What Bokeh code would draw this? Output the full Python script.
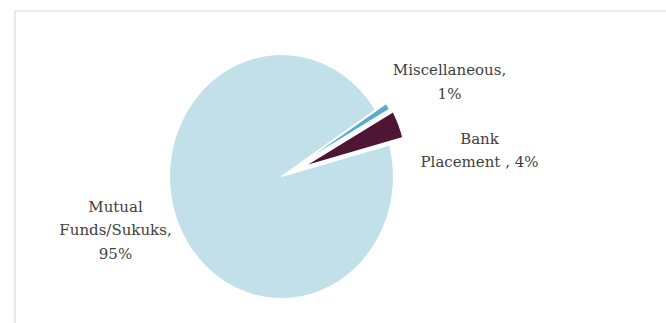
import numpy as np
from bokeh.plotting import figure
from bokeh.models import Range1d, ColumnDataSource
from bokeh.embed import file_html
from bokeh.resources import INLINE
from bokeh.core.properties import value

# ---- data ----
categories = ["Miscellaneous", "Bank Placement", "Mutual Funds/Sukuks"]
shares = [1, 4, 95]
label_texts = ["Miscellaneous,\n1%", "Bank\nPlacement , 4%", "Mutual\nFunds/Sukuks,\n95%"]

# ---- styling / layout ----
colors = ["#5aaccf", "#4f1535", "#c2e0ea"]
explode = [0.20, 0.22, 0.0]
slice_r = [0.91, 0.91, 1.0]
start_angle = 57.0  # degrees clockwise from 12 o'clock

W, H = 666, 323
CX, CY = 281.0, 176.0   # pie centre (pixels)
RX, RY = 112.0, 122.0   # pie radii (pixels)

def dx(px):
    return (px - CX) / RX

def dy(py):
    return (CY - py) / RY

label_px = [(449, 81.5), (479, 150), (115, 230)]

p = figure(width=W, height=H, output_backend="svg", toolbar_location=None,
           x_range=Range1d(dx(0), dx(W)), y_range=Range1d(dy(H), dy(0)),
           x_axis_location=None, y_axis_location=None, min_border=0)
p.outline_line_color = None
p.grid.visible = False
p.background_fill_color = "white"
p.border_fill_color = "white"

# chart-area border (top and left edges visible)
p.segment(x0=[dx(14.5), dx(14.5)], y0=[dy(10.5), dy(10.5)],
          x1=[dx(W + 5), dx(14.5)], y1=[dy(10.5), dy(H + 5)],
          line_color="#d9d9d9", line_width=1.2)

total = float(sum(shares))
xs, ys = [], []
acc = 0.0
for s, e, r in zip(shares, explode, slice_r):
    a0 = start_angle + 360.0 * acc / total
    a1 = start_angle + 360.0 * (acc + s) / total
    acc += s
    bis = np.radians((a0 + a1) / 2)
    ox, oy = e * np.sin(bis), e * np.cos(bis)
    th = np.radians(np.linspace(a0, a1, max(8, int(abs(a1 - a0) * 2))))
    xs.append([ox] + list(ox + r * np.sin(th)) + [ox])
    ys.append([oy] + list(oy + r * np.cos(th)) + [oy])

src = ColumnDataSource(dict(xs=xs, ys=ys, color=colors, name=categories))
p.patches("xs", "ys", source=src, fill_color="color", line_color="white", line_width=1.2)

tsrc = ColumnDataSource(dict(x=[dx(a) for a, b in label_px], y=[dy(b) for a, b in label_px],
                             text=label_texts))
p.text("x", "y", text="text", source=tsrc, text_align="center", text_baseline="middle",
       text_font=value("DejaVu Serif"), text_font_size="15px", text_color="#404040",
       text_line_height=1.32)

open("out.html", "w").write(file_html(p, INLINE))
